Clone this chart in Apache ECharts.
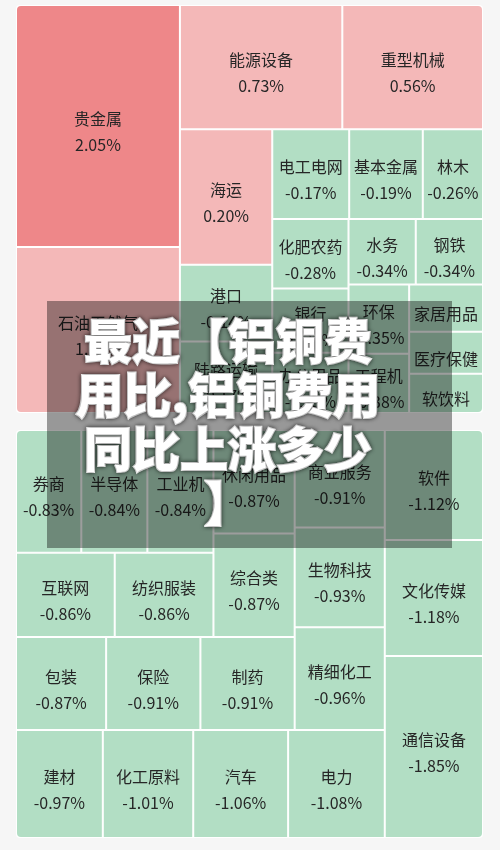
<!DOCTYPE html>
<html>
<head>
<meta charset="utf-8">
<script src="https://cdn.jsdelivr.net/npm/echarts/dist/echarts.min.js"></script>
<style>
  html, body { margin: 0; padding: 0; background: #f6f6f6; }
  #chart { width: 500px; height: 850px; }
</style>
</head>
<body>
<div id="chart"></div>
<script>
// ---- data ----
const topNames = ['贵金属','石油天然气','能源设备','重型机械','海运','港口','陆路运输','电工电网','基本金属','林木','化肥农药','银行','办公用品','水务','钢铁','环保','工程机械','家居用品','医疗保健','软饮料'];
const topChange = [2.05, 1.25, 0.73, 0.56, 0.20, -0.14, -0.17, -0.17, -0.19, -0.26, -0.28, -0.30, -0.33, -0.34, -0.34, -0.35, -0.38, -0.40, -0.43, -0.47];
const topSize = [397, 272, 202, 175, 125, 71, 66, 69, 66, 54, 53, 49, 46, 44, 44, 42, 36, 35, 31, 29];

const bottomNames = ['券商','半导体','工业机械','互联网','纺织服装','休闲用品','综合类','包装','保险','制药','商业服务','生物科技','精细化工','建材','化工原料','汽车','电力','软件','文化传媒','通信设备'];
const bottomChange = [-0.83, -0.84, -0.84, -0.86, -0.86, -0.87, -0.87, -0.87, -0.91, -0.91, -0.91, -0.93, -0.96, -0.97, -1.01, -1.06, -1.08, -1.12, -1.18, -1.85];
const bottomSize = [83, 84, 84, 86, 86, 87, 87, 87, 91, 91, 91, 93, 96, 97, 101, 106, 108, 112, 118, 185];

// grouping of tiles (indices into the arrays above), nested strips
const topGroups = [[0,1],[2,3],[4,5,6],[7,8,9],[10,11,12],[13,14],[15,16],[17,18,19]];
const bottomGroups = [[[[[[[0,1,2],[3,4]],[5,6]],[7,8,9]],[10,11,12]],[13,14,15,16]],[17,18,19]];

const titleText = '最近【铝铜费\n用比,铝铜费用\n同比上涨多少\n】';

// ---- styles ----
const FONT = '"Noto Sans CJK SC", "Noto Sans", sans-serif';
function tileColor(c) {
  if (c >= 2) return '#ee8789';
  if (c > 0) return '#f4b8b8';
  return '#b2dec4';
}
const corners = {
  '贵金属': [4,0,0,0], '重型机械': [0,4,0,0], '软饮料': [0,0,4,0], '石油天然气': [0,0,0,4],
  '券商': [4,0,0,0], '软件': [0,4,0,0], '通信设备': [0,0,4,0], '建材': [0,0,0,4]
};
let gid = 0;
function build(node, names, change, size) {
  if (typeof node === 'number') {
    const name = names[node];
    return {
      name: name,
      value: size[node],
      change: change[node],
      itemStyle: {
        color: tileColor(change[node]),
        borderWidth: 1,
        borderColor: '#ffffff',
        borderRadius: corners[name] || 0
      }
    };
  }
  gid++;
  return {
    name: 'g' + gid,
    children: node.map(n => build(n, names, change, size)),
    itemStyle: { borderWidth: 0, gapWidth: 0, borderColor: 'rgba(0,0,0,0)', color: 'rgba(0,0,0,0)' }
  };
}
const topData = topGroups.map(g => build(g, topNames, topChange, topSize));
const bottomData = bottomGroups.map(g => build(g, bottomNames, bottomChange, bottomSize));

function fmt(v) { return v.toFixed(2) + '%'; }

function makeSeries(data, top) {
  return {
    type: 'treemap',
    left: 16, top: top, width: 467, height: 408,
    roam: false,
    nodeClick: false,
    sort: false,
    squareRatio: 1e-6,
    visibleMin: 0,
    breadcrumb: { show: false },
    itemStyle: { borderWidth: 0, gapWidth: 0, borderColor: 'rgba(0,0,0,0)' },
    upperLabel: { show: false },
    label: {
      show: true,
      position: 'inside',
      padding: 0,
      offset: [0, 6],
      overflow: 'truncate',
      ellipsis: '',
      color: '#262626',
      fontFamily: FONT,
      fontSize: 16,
      lineHeight: 26,
      formatter: function (p) {
        if (!p.data || p.data.change == null) return '';
        return p.name + '\n' + fmt(p.data.change);
      }
    },
    emphasis: { disabled: true },
    data: data
  };
}

const chart = echarts.init(document.getElementById('chart'), null, { renderer: 'canvas' });
chart.setOption({
  backgroundColor: '#f6f6f6',
  animation: false,
  series: [makeSeries(topData, 5), makeSeries(bottomData, 430)],
  graphic: [
    {
      type: 'rect', z: 100,
      shape: { x: 47, y: 301, width: 405, height: 247 },
      style: { fill: 'rgba(0,0,0,0.38)' }
    },
    {
      type: 'text', z: 101,
      x: 228, y: 314,
      style: {
        text: titleText,
        fill: '#ffffff',
        stroke: '#ffffff',
        lineWidth: 2,
        fontFamily: FONT,
        fontWeight: 900,
        fontSize: 48,
        lineHeight: 54,
        align: 'center',
        verticalAlign: 'top',
        textShadowColor: 'rgba(0,0,0,0.6)',
        textShadowBlur: 4
      }
    }
  ]
});
</script>
</body>
</html>
